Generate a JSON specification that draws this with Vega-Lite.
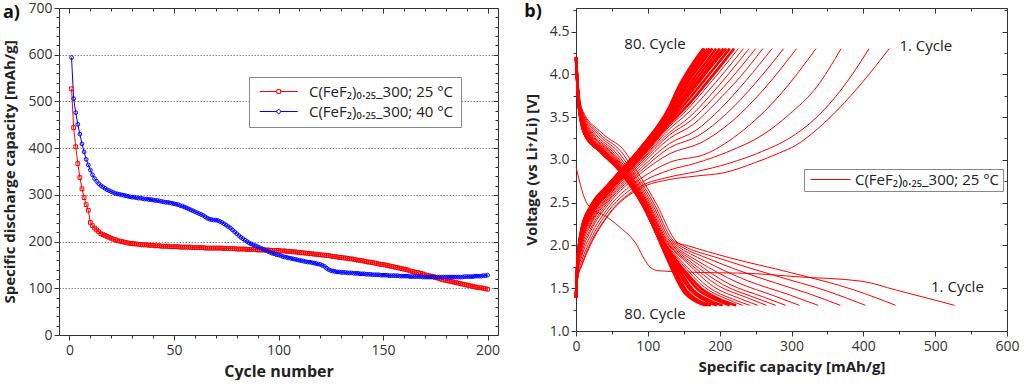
{
"$schema":"https://vega.github.io/schema/vega-lite/v6.json",
"padding":{"left":2,"top":0,"right":0,"bottom":0},
"spacing":22,
"resolve":{"scale":{"color":"independent"},"legend":{"color":"independent"}},
"config":{"font":"Open Sans","view":{"stroke":"#333","strokeWidth":1},
"axis":{"labelFontSize":14,"labelColor":"#333","titleFontSize":16,"titleFontWeight":"bold","titleColor":"#222","tickColor":"#333","domain":false,"grid":false,"labelOverlap":false,"labelFlush":false},
"title":{"font":"Open Sans","fontSize":18,"fontWeight":"bold","color":"#111"}},
"datasets":{
"cap":[
{"n":1,"a":527,"b":594},{"n":2,"a":444,"b":506},{"n":3,"a":403,"b":476},{"n":4,"a":367,"b":451},{"n":5,"a":337,"b":430},{"n":6,"a":313,"b":409},{"n":7,"a":294,"b":392},{"n":8,"a":279,"b":376},{"n":9,"a":267,"b":364},{"n":10,"a":241,"b":353},
{"n":11,"a":234,"b":343},{"n":12,"a":229,"b":335},{"n":13,"a":225,"b":329},{"n":14,"a":221,"b":324},{"n":15,"a":217,"b":320},{"n":16,"a":215,"b":317},{"n":17,"a":213,"b":314},{"n":18,"a":211,"b":311},{"n":19,"a":209,"b":309},{"n":20,"a":207,"b":307},
{"n":21,"a":205,"b":305},{"n":22,"a":204,"b":303},{"n":23,"a":202,"b":302},{"n":24,"a":201,"b":301},{"n":25,"a":200,"b":300},{"n":26,"a":199,"b":299},{"n":27,"a":198,"b":298},{"n":28,"a":197,"b":297},{"n":29,"a":196,"b":296},{"n":30,"a":196,"b":295},
{"n":31,"a":195,"b":295},{"n":32,"a":195,"b":294},{"n":33,"a":194,"b":293},{"n":34,"a":194,"b":293},{"n":35,"a":193,"b":292},{"n":36,"a":193,"b":291},{"n":37,"a":193,"b":291},{"n":38,"a":192,"b":290},{"n":39,"a":192,"b":290},{"n":40,"a":192,"b":289},
{"n":41,"a":191,"b":288},{"n":42,"a":191,"b":288},{"n":43,"a":191,"b":287},{"n":44,"a":190,"b":286},{"n":45,"a":190,"b":285},{"n":46,"a":190,"b":284},{"n":47,"a":190,"b":284},{"n":48,"a":189,"b":283},{"n":49,"a":189,"b":282},{"n":50,"a":189,"b":281},
{"n":51,"a":189,"b":280},{"n":52,"a":189,"b":279},{"n":53,"a":188,"b":277},{"n":54,"a":188,"b":276},{"n":55,"a":188,"b":274},{"n":56,"a":188,"b":272},{"n":57,"a":188,"b":270},{"n":58,"a":188,"b":268},{"n":59,"a":187,"b":266},{"n":60,"a":187,"b":264},
{"n":61,"a":187,"b":262},{"n":62,"a":187,"b":260},{"n":63,"a":187,"b":258},{"n":64,"a":187,"b":256},{"n":65,"a":186,"b":253},{"n":66,"a":186,"b":250},{"n":67,"a":186,"b":248},{"n":68,"a":186,"b":247},{"n":69,"a":186,"b":246},{"n":70,"a":186,"b":246},
{"n":71,"a":186,"b":245},{"n":72,"a":186,"b":243},{"n":73,"a":186,"b":241},{"n":74,"a":185,"b":238},{"n":75,"a":185,"b":235},{"n":76,"a":185,"b":232},{"n":77,"a":185,"b":229},{"n":78,"a":185,"b":225},{"n":79,"a":185,"b":221},{"n":80,"a":184,"b":217},
{"n":81,"a":184,"b":213},{"n":82,"a":184,"b":209},{"n":83,"a":184,"b":206},{"n":84,"a":184,"b":203},{"n":85,"a":183,"b":200},{"n":86,"a":183,"b":197},{"n":87,"a":183,"b":195},{"n":88,"a":183,"b":193},{"n":89,"a":183,"b":191},{"n":90,"a":182,"b":189},
{"n":91,"a":182,"b":187},{"n":92,"a":182,"b":185},{"n":93,"a":182,"b":183},{"n":94,"a":182,"b":181},{"n":95,"a":182,"b":179},{"n":96,"a":181,"b":177},{"n":97,"a":181,"b":175},{"n":98,"a":181,"b":174},{"n":99,"a":181,"b":172},{"n":100,"a":181,"b":171},
{"n":101,"a":180,"b":170},{"n":102,"a":180,"b":168},{"n":103,"a":180,"b":167},{"n":104,"a":179,"b":166},{"n":105,"a":179,"b":165},{"n":106,"a":179,"b":164},{"n":107,"a":178,"b":163},{"n":108,"a":178,"b":162},{"n":109,"a":177,"b":161},{"n":110,"a":177,"b":160},
{"n":111,"a":176,"b":159},{"n":112,"a":176,"b":158},{"n":113,"a":175,"b":157},{"n":114,"a":175,"b":156},{"n":115,"a":174,"b":156},{"n":116,"a":174,"b":155},{"n":117,"a":173,"b":154},{"n":118,"a":173,"b":153},{"n":119,"a":172,"b":152},{"n":120,"a":172,"b":151},
{"n":121,"a":171,"b":149},{"n":122,"a":171,"b":147},{"n":123,"a":170,"b":143},{"n":124,"a":170,"b":140},{"n":125,"a":169,"b":138},{"n":126,"a":168,"b":137},{"n":127,"a":168,"b":136},{"n":128,"a":167,"b":135},{"n":129,"a":166,"b":135},{"n":130,"a":166,"b":134},
{"n":131,"a":165,"b":134},{"n":132,"a":165,"b":134},{"n":133,"a":164,"b":133},{"n":134,"a":163,"b":133},{"n":135,"a":163,"b":133},{"n":136,"a":162,"b":132},{"n":137,"a":161,"b":132},{"n":138,"a":160,"b":132},{"n":139,"a":160,"b":131},{"n":140,"a":159,"b":131},
{"n":141,"a":158,"b":131},{"n":142,"a":157,"b":130},{"n":143,"a":156,"b":130},{"n":144,"a":156,"b":130},{"n":145,"a":155,"b":129},{"n":146,"a":154,"b":129},{"n":147,"a":153,"b":129},{"n":148,"a":152,"b":129},{"n":149,"a":151,"b":128},{"n":150,"a":151,"b":128},
{"n":151,"a":150,"b":128},{"n":152,"a":149,"b":128},{"n":153,"a":148,"b":127},{"n":154,"a":147,"b":127},{"n":155,"a":146,"b":127},{"n":156,"a":145,"b":127},{"n":157,"a":144,"b":127},{"n":158,"a":143,"b":126},{"n":159,"a":142,"b":126},{"n":160,"a":141,"b":126},
{"n":161,"a":140,"b":126},{"n":162,"a":139,"b":126},{"n":163,"a":137,"b":125},{"n":164,"a":136,"b":125},{"n":165,"a":135,"b":125},{"n":166,"a":134,"b":125},{"n":167,"a":133,"b":125},{"n":168,"a":132,"b":125},{"n":169,"a":131,"b":124},{"n":170,"a":129,"b":124},
{"n":171,"a":128,"b":124},{"n":172,"a":127,"b":124},{"n":173,"a":126,"b":124},{"n":174,"a":125,"b":124},{"n":175,"a":123,"b":124},{"n":176,"a":122,"b":124},{"n":177,"a":121,"b":124},{"n":178,"a":119,"b":124},{"n":179,"a":118,"b":124},{"n":180,"a":117,"b":124},
{"n":181,"a":116,"b":124},{"n":182,"a":115,"b":124},{"n":183,"a":114,"b":124},{"n":184,"a":113,"b":124},{"n":185,"a":112,"b":124},{"n":186,"a":111,"b":124},{"n":187,"a":110,"b":124},{"n":188,"a":109,"b":124},{"n":189,"a":108,"b":125},{"n":190,"a":107,"b":125},
{"n":191,"a":106,"b":125},{"n":192,"a":105,"b":125},{"n":193,"a":104,"b":125},{"n":194,"a":103,"b":126},{"n":195,"a":102,"b":126},{"n":196,"a":101,"b":126},{"n":197,"a":101,"b":126},{"n":198,"a":100,"b":127},{"n":199,"a":99,"b":127},{"n":200,"a":98,"b":128}
],
"curves":[
{"k":"D1","x":0,"y":2.92},{"k":"D1","x":4,"y":2.78},{"k":"D1","x":12,"y":2.55},{"k":"D1","x":20,"y":2.44},{"k":"D1","x":40,"y":2.35},{"k":"D1","x":60,"y":2.22},{"k":"D1","x":85,"y":2.0},{"k":"D1","x":95,"y":1.84},{"k":"D1","x":104,"y":1.74},{"k":"D1","x":115,"y":1.705},{"k":"D1","x":150,"y":1.69},{"k":"D1","x":250,"y":1.67},{"k":"D1","x":306,"y":1.635},{"k":"D1","x":399,"y":1.58},{"k":"D1","x":445,"y":1.48},{"k":"D1","x":491,"y":1.38},{"k":"D1","x":527,"y":1.3},
{"k":"D2","x":0,"y":4.2},{"k":"D2","x":8,"y":3.6},{"k":"D2","x":38,"y":3.3},{"k":"D2","x":68,"y":3.1},{"k":"D2","x":85.5,"y":2.86},{"k":"D2","x":113,"y":2.47},{"k":"D2","x":136.5,"y":2.08},{"k":"D2","x":142,"y":2.03},{"k":"D2","x":154,"y":2.0},{"k":"D2","x":212,"y":1.86},{"k":"D2","x":300,"y":1.68},{"k":"D2","x":387,"y":1.48},{"k":"D2","x":445,"y":1.3},
{"k":"D3","x":0,"y":4.2},{"k":"D3","x":7.4,"y":3.6},{"k":"D3","x":33.8,"y":3.3},{"k":"D3","x":62.5,"y":3.1},{"k":"D3","x":81.7,"y":2.86},{"k":"D3","x":109.8,"y":2.47},{"k":"D3","x":133.1,"y":2.08},{"k":"D3","x":148.4,"y":2.0},{"k":"D3","x":199,"y":1.85},{"k":"D3","x":276,"y":1.65},{"k":"D3","x":352,"y":1.46},{"k":"D3","x":403,"y":1.3},
{"k":"D4","x":0,"y":4.2},{"k":"D4","x":6.9,"y":3.6},{"k":"D4","x":30.5,"y":3.3},{"k":"D4","x":58,"y":3.1},{"k":"D4","x":78.7,"y":2.86},{"k":"D4","x":107.2,"y":2.47},{"k":"D4","x":130.3,"y":2.08},{"k":"D4","x":143.9,"y":2.0},{"k":"D4","x":189,"y":1.83},{"k":"D4","x":256,"y":1.62},{"k":"D4","x":323,"y":1.44},{"k":"D4","x":368,"y":1.3},
{"k":"D5","x":0,"y":4.2},{"k":"D5","x":6.5,"y":3.6},{"k":"D5","x":27.3,"y":3.3},{"k":"D5","x":53.9,"y":3.1},{"k":"D5","x":75.9,"y":2.86},{"k":"D5","x":104.8,"y":2.47},{"k":"D5","x":127.7,"y":2.08},{"k":"D5","x":139.7,"y":2.0},{"k":"D5","x":179,"y":1.82},{"k":"D5","x":238,"y":1.59},{"k":"D5","x":298,"y":1.42},{"k":"D5","x":337,"y":1.3},
{"k":"D6","x":0,"y":4.2},{"k":"D6","x":6.1,"y":3.6},{"k":"D6","x":24.7,"y":3.3},{"k":"D6","x":50.5,"y":3.1},{"k":"D6","x":73.5,"y":2.86},{"k":"D6","x":102.8,"y":2.47},{"k":"D6","x":125.5,"y":2.08},{"k":"D6","x":136.2,"y":2.0},{"k":"D6","x":171,"y":1.81},{"k":"D6","x":224,"y":1.57},{"k":"D6","x":276,"y":1.41},{"k":"D6","x":311,"y":1.3},
{"k":"D7","x":0,"y":4.2},{"k":"D7","x":5.9,"y":3.6},{"k":"D7","x":22.9,"y":3.3},{"k":"D7","x":48,"y":3.1},{"k":"D7","x":71.9,"y":2.86},{"k":"D7","x":101.4,"y":2.47},{"k":"D7","x":124,"y":2.08},{"k":"D7","x":133.7,"y":2.0},{"k":"D7","x":165,"y":1.81},{"k":"D7","x":213,"y":1.55},{"k":"D7","x":260,"y":1.4},{"k":"D7","x":292,"y":1.3},
{"k":"D8","x":0,"y":4.2},{"k":"D8","x":5.7,"y":3.6},{"k":"D8","x":21.6,"y":3.3},{"k":"D8","x":46.3,"y":3.1},{"k":"D8","x":70.7,"y":2.86},{"k":"D8","x":100.4,"y":2.47},{"k":"D8","x":123,"y":2.08},{"k":"D8","x":131.9,"y":2.0},{"k":"D8","x":161,"y":1.8},{"k":"D8","x":205,"y":1.54},{"k":"D8","x":249,"y":1.39},{"k":"D8","x":278,"y":1.3},
{"k":"D9","x":0,"y":4.2},{"k":"D9","x":5.5,"y":3.6},{"k":"D9","x":20.3,"y":3.3},{"k":"D9","x":44.6,"y":3.1},{"k":"D9","x":69.5,"y":2.86},{"k":"D9","x":99.4,"y":2.47},{"k":"D9","x":121.9,"y":2.08},{"k":"D9","x":130.2,"y":2.0},{"k":"D9","x":157,"y":1.8},{"k":"D9","x":198,"y":1.53},{"k":"D9","x":238,"y":1.39},{"k":"D9","x":265,"y":1.3},
{"k":"D10","x":0,"y":4.2},{"k":"D10","x":5.3,"y":3.6},{"k":"D10","x":19.3,"y":3.3},{"k":"D10","x":43.2,"y":3.1},{"k":"D10","x":68.6,"y":2.86},{"k":"D10","x":98.6,"y":2.47},{"k":"D10","x":121,"y":2.08},{"k":"D10","x":128.8,"y":2.0},{"k":"D10","x":154,"y":1.8},{"k":"D10","x":191,"y":1.52},{"k":"D10","x":228,"y":1.38},{"k":"D10","x":253,"y":1.3},
{"k":"D11","x":0,"y":4.2},{"k":"D11","x":5.2,"y":3.6},{"k":"D11","x":18,"y":3.3},{"k":"D11","x":41.5,"y":3.1},{"k":"D11","x":67.4,"y":2.86},{"k":"D11","x":97.6,"y":2.47},{"k":"D11","x":119.9,"y":2.08},{"k":"D11","x":127.1,"y":2.0},{"k":"D11","x":150,"y":1.79},{"k":"D11","x":185,"y":1.51},{"k":"D11","x":219,"y":1.37},{"k":"D11","x":242,"y":1.3},
{"k":"D12","x":0,"y":4.2},{"k":"D12","x":5,"y":3.6},{"k":"D12","x":17.2,"y":3.3},{"k":"D12","x":40.5,"y":3.1},{"k":"D12","x":66.7,"y":2.86},{"k":"D12","x":97,"y":2.47},{"k":"D12","x":119.3,"y":2.08},{"k":"D12","x":126,"y":2.0},{"k":"D12","x":147,"y":1.79},{"k":"D12","x":179,"y":1.51},{"k":"D12","x":211,"y":1.37},{"k":"D12","x":232,"y":1.3},
{"k":"D13","x":0,"y":4.2},{"k":"D13","x":4.9,"y":3.6},{"k":"D13","x":16.2,"y":3.3},{"k":"D13","x":39.1,"y":3.1},{"k":"D13","x":65.8,"y":2.86},{"k":"D13","x":96.2,"y":2.47},{"k":"D13","x":118.4,"y":2.08},{"k":"D13","x":124.6,"y":2.0},{"k":"D13","x":144,"y":1.78},{"k":"D13","x":174,"y":1.5},{"k":"D13","x":203,"y":1.36},{"k":"D13","x":223,"y":1.3},
{"k":"D14","x":0,"y":4.2},{"k":"D14","x":4.8,"y":3.6},{"k":"D14","x":15.4,"y":3.3},{"k":"D14","x":38.1,"y":3.1},{"k":"D14","x":65.1,"y":2.86},{"k":"D14","x":95.6,"y":2.47},{"k":"D14","x":117.8,"y":2.08},{"k":"D14","x":123.6,"y":2.0},{"k":"D14","x":142,"y":1.78},{"k":"D14","x":169,"y":1.49},{"k":"D14","x":196,"y":1.36},{"k":"D14","x":214,"y":1.3},
{"k":"D15","x":0,"y":4.2},{"k":"D15","x":4.6,"y":3.6},{"k":"D15","x":14.3,"y":3.3},{"k":"D15","x":36.7,"y":3.1},{"k":"D15","x":64.1,"y":2.86},{"k":"D15","x":94.8,"y":2.47},{"k":"D15","x":116.9,"y":2.08},{"k":"D15","x":122.2,"y":2.0},{"k":"D15","x":139,"y":1.78},{"k":"D15","x":163,"y":1.48},{"k":"D15","x":188,"y":1.35},{"k":"D15","x":204,"y":1.3},
{"k":"D16","x":0,"y":4.2},{"k":"D16","x":4.5,"y":3.6},{"k":"D16","x":13.6,"y":3.3},{"k":"D16","x":35.7,"y":3.1},{"k":"D16","x":63.4,"y":2.86},{"k":"D16","x":94.2,"y":2.47},{"k":"D16","x":116.3,"y":2.08},{"k":"D16","x":121.1,"y":2.0},{"k":"D16","x":136,"y":1.78},{"k":"D16","x":159,"y":1.48},{"k":"D16","x":181,"y":1.35},{"k":"D16","x":196,"y":1.3},
{"k":"D17","x":0,"y":4.2},{"k":"D17","x":4.4,"y":3.6},{"k":"D17","x":12.8,"y":3.3},{"k":"D17","x":34.6,"y":3.1},{"k":"D17","x":62.7,"y":2.86},{"k":"D17","x":93.6,"y":2.47},{"k":"D17","x":115.6,"y":2.08},{"k":"D17","x":120.1,"y":2.0},{"k":"D17","x":134,"y":1.77},{"k":"D17","x":154,"y":1.47},{"k":"D17","x":174,"y":1.34},{"k":"D17","x":188,"y":1.3},
{"k":"D20","x":0,"y":4.2},{"k":"D20","x":4.4,"y":3.6},{"k":"D20","x":12.6,"y":3.3},{"k":"D20","x":34.4,"y":3.1},{"k":"D20","x":62.5,"y":2.86},{"k":"D20","x":93.5,"y":2.47},{"k":"D20","x":115.5,"y":2.08},{"k":"D20","x":119.8,"y":2.0},{"k":"D20","x":133,"y":1.77},{"k":"D20","x":153,"y":1.47},{"k":"D20","x":173,"y":1.34},{"k":"D20","x":186,"y":1.3},
{"k":"D30","x":0,"y":4.2},{"k":"D30","x":4.3,"y":3.6},{"k":"D30","x":12.3,"y":3.3},{"k":"D30","x":34,"y":3.1},{"k":"D30","x":62.3,"y":2.86},{"k":"D30","x":93.3,"y":2.47},{"k":"D30","x":115.3,"y":2.08},{"k":"D30","x":119.5,"y":2.0},{"k":"D30","x":132,"y":1.77},{"k":"D30","x":151.5,"y":1.47},{"k":"D30","x":171,"y":1.34},{"k":"D30","x":183.5,"y":1.3},
{"k":"D50","x":0,"y":4.2},{"k":"D50","x":4.3,"y":3.6},{"k":"D50","x":12.2,"y":3.3},{"k":"D50","x":33.8,"y":3.1},{"k":"D50","x":62.2,"y":2.86},{"k":"D50","x":93.1,"y":2.47},{"k":"D50","x":115.2,"y":2.08},{"k":"D50","x":119.2,"y":2.0},{"k":"D50","x":132,"y":1.77},{"k":"D50","x":150.6,"y":1.47},{"k":"D50","x":169.4,"y":1.34},{"k":"D50","x":182,"y":1.3},
{"k":"D80","x":0,"y":4.2},{"k":"D80","x":4.3,"y":3.6},{"k":"D80","x":12,"y":3.3},{"k":"D80","x":33.6,"y":3.1},{"k":"D80","x":62,"y":2.86},{"k":"D80","x":93,"y":2.47},{"k":"D80","x":115,"y":2.08},{"k":"D80","x":119,"y":2.0},{"k":"D80","x":131,"y":1.77},{"k":"D80","x":149.5,"y":1.465},{"k":"D80","x":167.8,"y":1.34},{"k":"D80","x":180,"y":1.3},
{"k":"C1","x":0,"y":1.39},{"k":"C1","x":2,"y":1.6},{"k":"C1","x":8,"y":1.76},{"k":"C1","x":20,"y":2.0},{"k":"C1","x":45,"y":2.35},{"k":"C1","x":90,"y":2.67},{"k":"C1","x":130,"y":2.77},{"k":"C1","x":166,"y":2.81},{"k":"C1","x":206,"y":2.85},{"k":"C1","x":250,"y":2.97},{"k":"C1","x":283,"y":3.08},{"k":"C1","x":306,"y":3.17},{"k":"C1","x":336,"y":3.36},{"k":"C1","x":366,"y":3.6},{"k":"C1","x":399,"y":3.91},{"k":"C1","x":436,"y":4.3},
{"k":"C2","x":0,"y":1.39},{"k":"C2","x":2,"y":1.61},{"k":"C2","x":8,"y":1.78},{"k":"C2","x":20,"y":2.02},{"k":"C2","x":45,"y":2.36},{"k":"C2","x":90,"y":2.69},{"k":"C2","x":130,"y":2.8},{"k":"C2","x":166,"y":2.86},{"k":"C2","x":213,"y":2.96},{"k":"C2","x":259.5,"y":3.1},{"k":"C2","x":296.5,"y":3.25},{"k":"C2","x":334,"y":3.49},{"k":"C2","x":371,"y":3.84},{"k":"C2","x":408,"y":4.3},
{"k":"C3","x":0,"y":1.39},{"k":"C3","x":2,"y":1.63},{"k":"C3","x":8,"y":1.82},{"k":"C3","x":20,"y":2.06},{"k":"C3","x":45,"y":2.4},{"k":"C3","x":90,"y":2.73},{"k":"C3","x":130,"y":2.88},{"k":"C3","x":166,"y":2.96},{"k":"C3","x":213,"y":3.1},{"k":"C3","x":259.5,"y":3.29},{"k":"C3","x":296.6,"y":3.53},{"k":"C3","x":334,"y":3.84},{"k":"C3","x":369,"y":4.3},
{"k":"C4","x":0,"y":1.39},{"k":"C4","x":2,"y":1.65},{"k":"C4","x":8,"y":1.87},{"k":"C4","x":20,"y":2.11},{"k":"C4","x":45,"y":2.44},{"k":"C4","x":90,"y":2.78},{"k":"C4","x":130,"y":2.97},{"k":"C4","x":181,"y":3.07},{"k":"C4","x":232,"y":3.34},{"k":"C4","x":283,"y":3.75},{"k":"C4","x":334,"y":4.3},
{"k":"C5","x":0,"y":1.39},{"k":"C5","x":2,"y":1.67},{"k":"C5","x":8,"y":1.91},{"k":"C5","x":20,"y":2.16},{"k":"C5","x":45,"y":2.48},{"k":"C5","x":90,"y":2.84},{"k":"C5","x":130,"y":3.07},{"k":"C5","x":174,"y":3.2},{"k":"C5","x":218.5,"y":3.46},{"k":"C5","x":263,"y":3.84},{"k":"C5","x":307,"y":4.3},
{"k":"C6","x":0,"y":1.39},{"k":"C6","x":2,"y":1.69},{"k":"C6","x":8,"y":1.95},{"k":"C6","x":20,"y":2.19},{"k":"C6","x":45,"y":2.51},{"k":"C6","x":90,"y":2.87},{"k":"C6","x":130,"y":3.14},{"k":"C6","x":170,"y":3.28},{"k":"C6","x":209.5,"y":3.54},{"k":"C6","x":249,"y":3.89},{"k":"C6","x":289,"y":4.3},
{"k":"C7","x":0,"y":1.39},{"k":"C7","x":2,"y":1.7},{"k":"C7","x":8,"y":1.98},{"k":"C7","x":20,"y":2.23},{"k":"C7","x":45,"y":2.53},{"k":"C7","x":90,"y":2.9},{"k":"C7","x":130,"y":3.19},{"k":"C7","x":166,"y":3.34},{"k":"C7","x":201.5,"y":3.6},{"k":"C7","x":237,"y":3.93},{"k":"C7","x":273,"y":4.3},
{"k":"C8","x":0,"y":1.39},{"k":"C8","x":2,"y":1.71},{"k":"C8","x":8,"y":2.01},{"k":"C8","x":20,"y":2.25},{"k":"C8","x":45,"y":2.55},{"k":"C8","x":90,"y":2.93},{"k":"C8","x":130,"y":3.25},{"k":"C8","x":162.5,"y":3.41},{"k":"C8","x":195,"y":3.67},{"k":"C8","x":227.5,"y":3.96},{"k":"C8","x":260,"y":4.3},
{"k":"C9","x":0,"y":1.39},{"k":"C9","x":2,"y":1.72},{"k":"C9","x":8,"y":2.03},{"k":"C9","x":20,"y":2.27},{"k":"C9","x":45,"y":2.57},{"k":"C9","x":90,"y":2.96},{"k":"C9","x":130,"y":3.29},{"k":"C9","x":160,"y":3.46},{"k":"C9","x":190,"y":3.71},{"k":"C9","x":220,"y":3.99},{"k":"C9","x":250,"y":4.3},
{"k":"C10","x":0,"y":1.39},{"k":"C10","x":2,"y":1.73},{"k":"C10","x":8,"y":2.05},{"k":"C10","x":20,"y":2.29},{"k":"C10","x":45,"y":2.58},{"k":"C10","x":90,"y":2.98},{"k":"C10","x":130,"y":3.32},{"k":"C10","x":158,"y":3.5},{"k":"C10","x":185.5,"y":3.74},{"k":"C10","x":213,"y":4.01},{"k":"C10","x":241,"y":4.3},
{"k":"C11","x":0,"y":1.39},{"k":"C11","x":2,"y":1.74},{"k":"C11","x":8,"y":2.06},{"k":"C11","x":20,"y":2.31},{"k":"C11","x":45,"y":2.6},{"k":"C11","x":90,"y":2.99},{"k":"C11","x":130,"y":3.36},{"k":"C11","x":156,"y":3.55},{"k":"C11","x":181.5,"y":3.78},{"k":"C11","x":207,"y":4.03},{"k":"C11","x":233,"y":4.3},
{"k":"C12","x":0,"y":1.39},{"k":"C12","x":2,"y":1.75},{"k":"C12","x":8,"y":2.08},{"k":"C12","x":20,"y":2.33},{"k":"C12","x":45,"y":2.61},{"k":"C12","x":90,"y":3.01},{"k":"C12","x":130,"y":3.39},{"k":"C12","x":154,"y":3.58},{"k":"C12","x":178,"y":3.81},{"k":"C12","x":202,"y":4.05},{"k":"C12","x":226,"y":4.3},
{"k":"C13","x":0,"y":1.39},{"k":"C13","x":2,"y":1.75},{"k":"C13","x":8,"y":2.09},{"k":"C13","x":20,"y":2.34},{"k":"C13","x":45,"y":2.62},{"k":"C13","x":90,"y":3.03},{"k":"C13","x":130,"y":3.42},{"k":"C13","x":152.5,"y":3.61},{"k":"C13","x":175,"y":3.83},{"k":"C13","x":197.5,"y":4.06},{"k":"C13","x":220,"y":4.3},
{"k":"C14","x":0,"y":1.39},{"k":"C14","x":2,"y":1.76},{"k":"C14","x":8,"y":2.11},{"k":"C14","x":20,"y":2.36},{"k":"C14","x":45,"y":2.64},{"k":"C14","x":90,"y":3.05},{"k":"C14","x":130,"y":3.45},{"k":"C14","x":151,"y":3.65},{"k":"C14","x":172,"y":3.86},{"k":"C14","x":193,"y":4.08},{"k":"C14","x":214,"y":4.3},
{"k":"C15","x":0,"y":1.39},{"k":"C15","x":2,"y":1.77},{"k":"C15","x":8,"y":2.13},{"k":"C15","x":20,"y":2.37},{"k":"C15","x":45,"y":2.65},{"k":"C15","x":90,"y":3.06},{"k":"C15","x":130,"y":3.48},{"k":"C15","x":150,"y":3.69},{"k":"C15","x":169.5,"y":3.89},{"k":"C15","x":189,"y":4.1},{"k":"C15","x":209,"y":4.3},
{"k":"C16","x":0,"y":1.39},{"k":"C16","x":2,"y":1.77},{"k":"C16","x":8,"y":2.13},{"k":"C16","x":20,"y":2.38},{"k":"C16","x":45,"y":2.65},{"k":"C16","x":90,"y":3.07},{"k":"C16","x":130,"y":3.49},{"k":"C16","x":149,"y":3.7},{"k":"C16","x":167.5,"y":3.9},{"k":"C16","x":186,"y":4.1},{"k":"C16","x":205,"y":4.3},
{"k":"C17","x":0,"y":1.39},{"k":"C17","x":2,"y":1.77},{"k":"C17","x":8,"y":2.14},{"k":"C17","x":20,"y":2.39},{"k":"C17","x":45,"y":2.66},{"k":"C17","x":90,"y":3.08},{"k":"C17","x":130,"y":3.51},{"k":"C17","x":147.5,"y":3.72},{"k":"C17","x":165,"y":3.92},{"k":"C17","x":182.5,"y":4.11},{"k":"C17","x":200,"y":4.3},
{"k":"C20","x":0,"y":1.39},{"k":"C20","x":2,"y":1.78},{"k":"C20","x":8,"y":2.16},{"k":"C20","x":20,"y":2.41},{"k":"C20","x":45,"y":2.67},{"k":"C20","x":90,"y":3.09},{"k":"C20","x":130,"y":3.54},{"k":"C20","x":146,"y":3.75},{"k":"C20","x":162.5,"y":3.94},{"k":"C20","x":179,"y":4.12},{"k":"C20","x":195,"y":4.3},
{"k":"C25","x":0,"y":1.39},{"k":"C25","x":2,"y":1.79},{"k":"C25","x":8,"y":2.17},{"k":"C25","x":20,"y":2.42},{"k":"C25","x":45,"y":2.68},{"k":"C25","x":90,"y":3.11},{"k":"C25","x":130,"y":3.56},{"k":"C25","x":145,"y":3.78},{"k":"C25","x":160,"y":3.96},{"k":"C25","x":175,"y":4.13},{"k":"C25","x":190,"y":4.3},
{"k":"C30","x":0,"y":1.39},{"k":"C30","x":2,"y":1.79},{"k":"C30","x":8,"y":2.18},{"k":"C30","x":20,"y":2.43},{"k":"C30","x":45,"y":2.69},{"k":"C30","x":90,"y":3.12},{"k":"C30","x":130,"y":3.58},{"k":"C30","x":144,"y":3.8},{"k":"C30","x":158,"y":3.98},{"k":"C30","x":172,"y":4.14},{"k":"C30","x":186,"y":4.3},
{"k":"C40","x":0,"y":1.39},{"k":"C40","x":2,"y":1.79},{"k":"C40","x":8,"y":2.19},{"k":"C40","x":20,"y":2.44},{"k":"C40","x":45,"y":2.7},{"k":"C40","x":90,"y":3.13},{"k":"C40","x":130,"y":3.59},{"k":"C40","x":143,"y":3.81},{"k":"C40","x":156.5,"y":3.99},{"k":"C40","x":170,"y":4.15},{"k":"C40","x":183,"y":4.3},
{"k":"C60","x":0,"y":1.39},{"k":"C60","x":2,"y":1.8},{"k":"C60","x":8,"y":2.2},{"k":"C60","x":20,"y":2.45},{"k":"C60","x":45,"y":2.71},{"k":"C60","x":90,"y":3.14},{"k":"C60","x":130,"y":3.61},{"k":"C60","x":142,"y":3.83},{"k":"C60","x":154.5,"y":4.0},{"k":"C60","x":167,"y":4.16},{"k":"C60","x":179,"y":4.3},
{"k":"C80","x":0,"y":1.39},{"k":"C80","x":2,"y":1.8},{"k":"C80","x":8,"y":2.2},{"k":"C80","x":20,"y":2.45},{"k":"C80","x":45,"y":2.71},{"k":"C80","x":90,"y":3.14},{"k":"C80","x":130,"y":3.62},{"k":"C80","x":142,"y":3.84},{"k":"C80","x":153.5,"y":4.01},{"k":"C80","x":165,"y":4.16},{"k":"C80","x":177,"y":4.3}
],
"notes":[
{"t":"80. Cycle","x":110,"y":4.35},{"t":"1. Cycle","x":487,"y":4.33},{"t":"80. Cycle","x":110,"y":1.2},{"t":"1. Cycle","x":531,"y":1.51}
],
"ser":[{"s":"C(FeF₂)₀.₂₅_300; 25 °C","x":0,"y":1}]
},
"hconcat":[
{
"width":439,"height":327,
"title":{"text":"a)","anchor":"start","frame":"bounds","baseline":"top","offset":0,"dy":21},
"data":{"name":"cap"},
"transform":[{"fold":["a","b"],"as":["s","v"]}],
"layer":[
{"mark":{"type":"line","strokeWidth":1},
"encoding":{
"x":{"field":"n","type":"quantitative","scale":{"domain":[-5,205],"nice":false,"zero":false},
"axis":{"title":"Cycle number","values":[0,10,20,30,40,50,60,70,80,90,100,110,120,130,140,150,160,170,180,190,200],"labelExpr":"datum.value % 50 === 0 ? datum.label : ''","tickSize":{"condition":{"test":"datum.value % 50 === 0","value":5},"value":3},"labelPadding":3,"titlePadding":6}},
"y":{"field":"v","type":"quantitative","scale":{"domain":[0,700],"nice":false},
"axis":{"title":"Specific discharge capacity [mAh/g]","titleFontSize":15,"values":[0,20,40,60,80,100,120,140,160,180,200,220,240,260,280,300,320,340,360,380,400,420,440,460,480,500,520,540,560,580,600,620,640,660,680,700],"labelExpr":"datum.value % 100 === 0 ? datum.label : ''","tickSize":{"condition":{"test":"datum.value % 100 === 0","value":5},"value":3},"grid":true,"gridDash":[1.5,1.5],"gridColor":"#888","gridOpacity":{"condition":{"test":"datum.value % 100 === 0 && datum.value > 0 && datum.value < 700","value":1},"value":0},"labelPadding":2,"titlePadding":10}},
"color":{"field":"s","type":"nominal","scale":{"domain":["a","b"],"range":["#ff0000","#0000ff"]},
"legend":{"title":null,"orient":"none","legendX":190,"legendY":69,"labelExpr":"datum.value === 'a' ? 'C(FeF₂)₀.₂₅_300; 25 °C' : 'C(FeF₂)₀.₂₅_300; 40 °C'","labelFontSize":15,"labelColor":"#222","symbolType":"M-1,0H3.5M4.5,0H9M3.5,-0.5H4.5V0.5H3.5Z","symbolSize":58,"symbolStrokeWidth":1,"labelOffset":38,"rowPadding":4,"padding":7,"strokeColor":"#888","fillColor":"white",
"encode":{"symbols":{"update":{"shape":{"signal":"datum.value === 'a' ? 'M-1,0H3.5M4.5,0H9M3.5,-0.5H4.5V0.5H3.5Z' : 'M-1,0H3.5M4.5,0H9M3.5,0A0.5,0.5 0 1,0 4.5,0A0.5,0.5 0 1,0 3.5,0'"}}}}}}
}},
{"transform":[{"filter":"datum.s === 'a'"}],
"mark":{"type":"point","filled":false,"strokeWidth":1,"size":14,"shape":"square","opacity":1},
"encoding":{
"x":{"field":"n","type":"quantitative","axis":null},
"y":{"field":"v","type":"quantitative","axis":null},
"color":{"field":"s","type":"nominal"}
}},
{"transform":[{"filter":"datum.s === 'b'"}],
"mark":{"type":"point","filled":false,"strokeWidth":1,"size":14,"shape":"circle","opacity":1},
"encoding":{
"x":{"field":"n","type":"quantitative","axis":null},
"y":{"field":"v","type":"quantitative","axis":null},
"color":{"field":"s","type":"nominal"}
}},
{"mark":{"type":"point","opacity":0},
"encoding":{
"x":{"field":"n","type":"quantitative","axis":{"orient":"top","title":null,"labels":false,"values":[0,10,20,30,40,50,60,70,80,90,100,110,120,130,140,150,160,170,180,190,200],"tickSize":{"condition":{"test":"datum.value % 50 === 0","value":-5},"value":-3}}},
"y":{"field":"v","type":"quantitative","axis":{"orient":"right","title":null,"labels":false,"values":[0,20,40,60,80,100,120,140,160,180,200,220,240,260,280,300,320,340,360,380,400,420,440,460,480,500,520,540,560,580,600,620,640,660,680,700],"tickSize":{"condition":{"test":"datum.value % 100 === 0","value":-5},"value":-3}}}
}}
],
"resolve":{"axis":{"x":"independent","y":"independent"}}
},
{
"width":431,"height":323,
"title":{"text":"b)","anchor":"start","frame":"bounds","baseline":"top","offset":0,"dy":18},
"layer":[
{"data":{"name":"curves"},
"mark":{"type":"line","strokeWidth":1,"interpolate":"monotone","color":"#ff0000"},
"encoding":{
"x":{"field":"x","type":"quantitative","scale":{"domain":[0,600],"nice":false},
"axis":{"title":"Specific capacity [mAh/g]","titleFontSize":15,"values":[0,50,100,150,200,250,300,350,400,450,500,550,600],"labelExpr":"datum.value % 100 === 0 ? datum.label : ''","tickSize":{"condition":{"test":"datum.value % 100 === 0","value":5},"value":3},"labelPadding":3,"titlePadding":6}},
"y":{"field":"y","type":"quantitative","scale":{"domain":[1,4.775],"nice":false,"zero":false},
"axis":{"title":"Voltage (vs  Li⁺/Li) [V]","titleFontSize":15,"values":[1,1.25,1.5,1.75,2,2.25,2.5,2.75,3,3.25,3.5,3.75,4,4.25,4.5,4.75],"labelExpr":"abs(datum.value*2 - round(datum.value*2)) < 0.01 ? format(datum.value, '.1f') : ''","tickSize":{"condition":{"test":"abs(datum.value*2 - round(datum.value*2)) < 0.01","value":5},"value":3},"labelPadding":2,"titlePadding":10}},
"detail":{"field":"k","type":"nominal"}
}},
{"data":{"name":"curves"},
"transform":[{"filter":"toNumber(substring(datum.k,1)) >= 13"}],
"mark":{"type":"line","strokeWidth":2.6,"interpolate":"monotone","color":"#ff0000"},
"encoding":{
"x":{"field":"x","type":"quantitative","axis":null},
"y":{"field":"y","type":"quantitative","axis":null},
"detail":{"field":"k","type":"nominal"}
}},
{"data":{"name":"ser"},
"mark":{"type":"line","strokeWidth":1},
"encoding":{
"x":{"field":"x","type":"quantitative","axis":null},
"y":{"field":"y","type":"quantitative","axis":null},
"color":{"field":"s","type":"nominal","scale":{"range":["#ff0000"]},
"legend":{"title":null,"orient":"none","legendX":228,"legendY":161,"labelFontSize":15,"labelColor":"#222","symbolType":"M-1,0H9.5","symbolSize":58,"symbolStrokeWidth":1,"labelOffset":33,"padding":3,"strokeColor":"#888","fillColor":"white"}}
}},
{"data":{"name":"notes"},
"mark":{"type":"text","fontSize":15,"color":"#222","font":"Open Sans"},
"encoding":{
"x":{"field":"x","type":"quantitative","axis":null},
"y":{"field":"y","type":"quantitative","axis":null},
"text":{"field":"t"}
}},
{"data":{"name":"curves"},
"mark":{"type":"point","opacity":0},
"encoding":{
"x":{"field":"x","type":"quantitative","axis":{"orient":"top","title":null,"labels":false,"values":[0,50,100,150,200,250,300,350,400,450,500,550,600],"tickSize":{"condition":{"test":"datum.value % 100 === 0","value":-5},"value":-3}}},
"y":{"field":"y","type":"quantitative","axis":{"orient":"right","title":null,"labels":false,"values":[1,1.25,1.5,1.75,2,2.25,2.5,2.75,3,3.25,3.5,3.75,4,4.25,4.5,4.75],"tickSize":{"condition":{"test":"abs(datum.value*2 - round(datum.value*2)) < 0.01","value":-5},"value":-3}}}
}}
],
"resolve":{"axis":{"x":"independent","y":"independent"}}
}
]
}
